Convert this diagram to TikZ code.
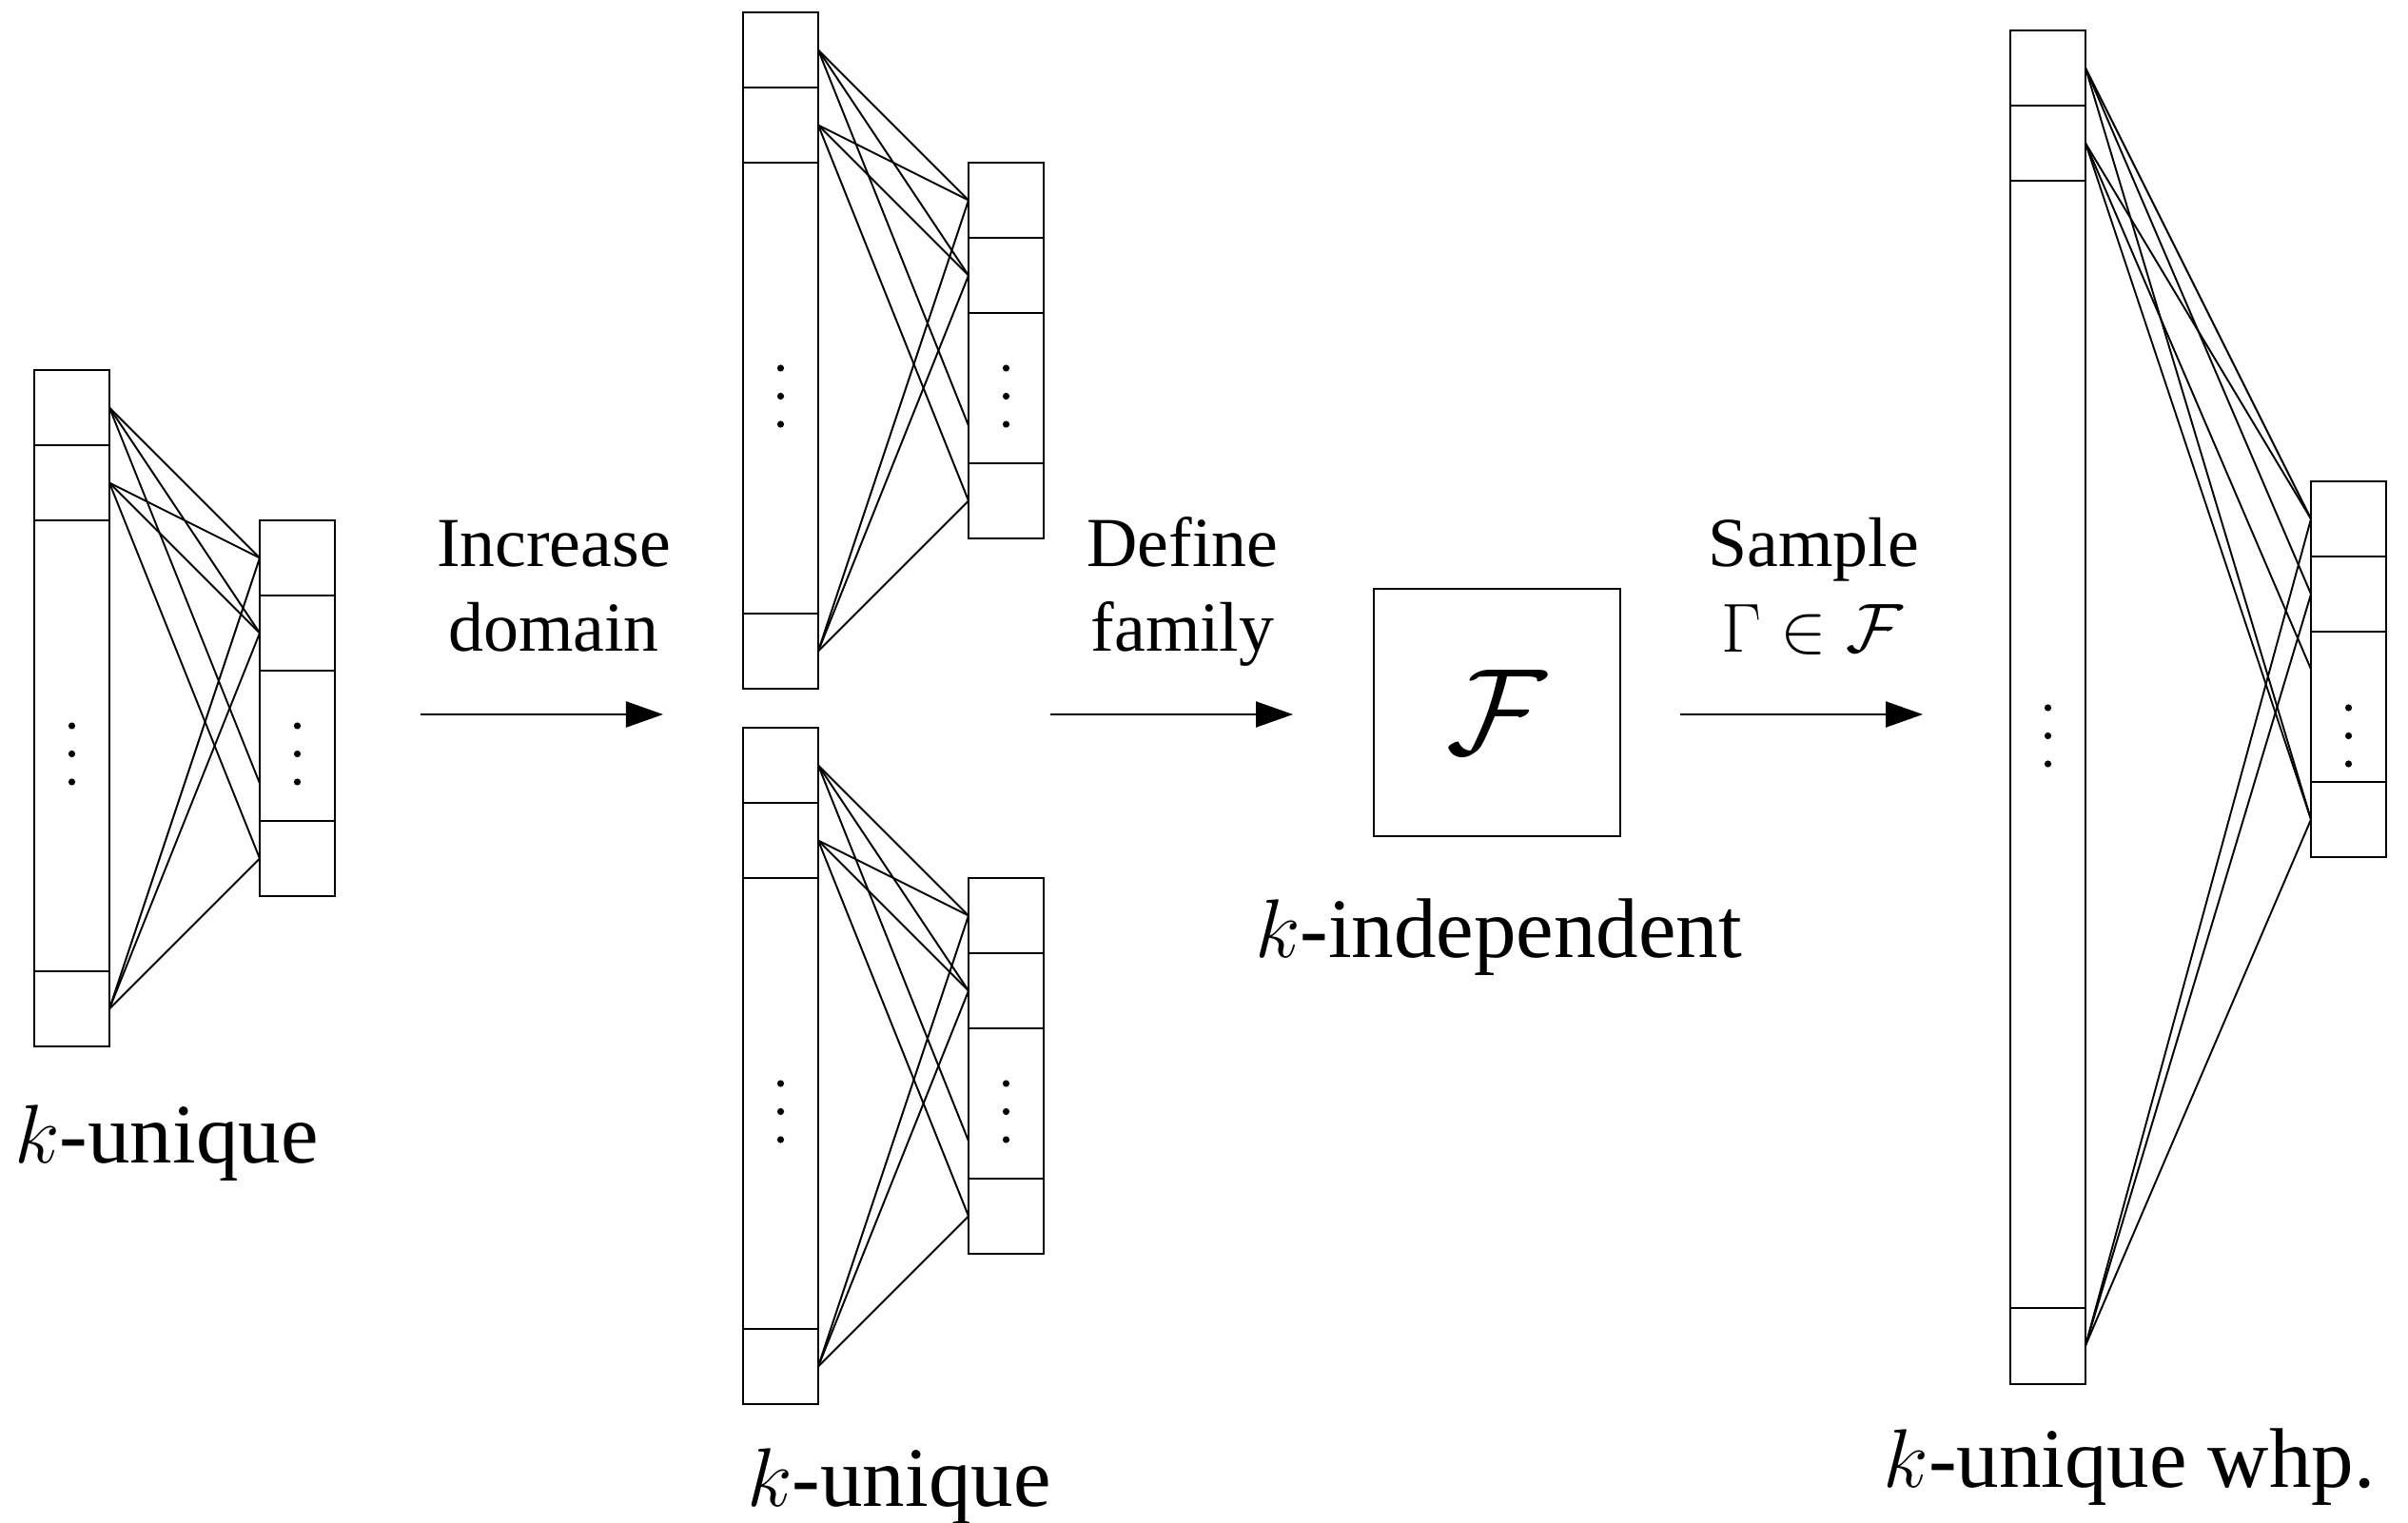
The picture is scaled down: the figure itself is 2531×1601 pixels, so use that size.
\documentclass[tikz,border=0pt]{standalone}
\usepackage{fontspec}
\usepackage{graphicx}
\setmainfont{Liberation Serif}
\usetikzlibrary{arrows.meta}
\tikzset{
  col/.style={draw, line width=0.6pt, minimum width=0.79cm, inner sep=0pt, outer sep=0pt, anchor=north west},
  divider/.style={line width=0.6pt},
  edge/.style={line width=0.55pt},
  flow/.style={line width=0.6pt, -{Triangle[length=0.39cm,width=0.27cm]}},
  lab/.style={font=\fontsize{21}{25}\selectfont, anchor=base, inner sep=0pt},
  biglab/.style={font=\fontsize{25.3}{30}\selectfont, anchor=base, inner sep=0pt},
  famfont/.style={font=\fontsize{24.88}{30}\selectfont},
}
% #1 name, #2 X (left of big column), #3 Y (top), #4 y of middle dot
\newcommand\smallgraph[4]{%
  \node[col, minimum height=7.11cm] (#1big) at (#2,#3) {};
  \node[col, minimum height=3.95cm] (#1sml) at (#2+237,#3+158) {};
  \foreach \kk in {1,2,8} \draw[divider] (#2,#3+79*\kk) -- (#2+79,#3+79*\kk);
  \foreach \kk in {3,4,6} \draw[divider] (#2+237,#3+79*\kk) -- (#2+316,#3+79*\kk);
  \coordinate (#1a1) at (#2+79,#3+39.5);
  \coordinate (#1a2) at (#2+79,#3+118.5);
  \coordinate (#1a3) at (#2+79,#3+671.5);
  \coordinate (#1b1) at (#2+237,#3+197.5);
  \coordinate (#1b2) at (#2+237,#3+276.5);
  \coordinate (#1b3) at (#2+237,#3+434.5);
  \coordinate (#1b4) at (#2+237,#3+513.5);
  \foreach \ea/\eb in {a1/b1,a1/b2,a1/b3,a2/b1,a2/b2,a2/b4,a3/b1,a3/b2,a3/b4}
    \draw[edge] (#1\ea) -- (#1\eb);
  \foreach \dd in {-29.5,0,29.5} {
    \fill (#2+39.5,#4+\dd) circle (3.6);
    \fill (#2+276.5,#4+\dd) circle (3.6);
  }
}
\begin{document}
\begin{tikzpicture}[x=0.01cm, y=-0.01cm]
\useasboundingbox (0,0) rectangle (2531,1601);

% left graph
\smallgraph{L}{36}{389}{792.5}
% middle graphs
\smallgraph{MT}{781}{13}{416.5}
\smallgraph{MB}{781}{765}{1168.5}

% right graph
\node[col, minimum height=14.22cm] (Rbig) at (2113,32) {};
\node[col, minimum height=3.95cm] (Rsml) at (2429,506) {};
\foreach \kk in {1,2,17} \draw[divider] (2113,32+79*\kk) -- (2192,32+79*\kk);
\foreach \kk in {7,8,10} \draw[divider] (2429,32+79*\kk) -- (2508,32+79*\kk);
\coordinate (Ra1) at (2192,71.5);
\coordinate (Ra2) at (2192,150.5);
\coordinate (Ra3) at (2192,1414.5);
\coordinate (Rb1) at (2429,545.5);
\coordinate (Rb2) at (2429,624.5);
\coordinate (Rb3) at (2429,703.5);
\coordinate (Rb4) at (2429,861.5);
\foreach \ea/\eb in {a1/b1,a1/b2,a1/b4,a2/b1,a2/b3,a2/b4,a3/b1,a3/b2,a3/b4}
  \draw[edge] (R\ea) -- (R\eb);
\foreach \dd in {-29.5,0,29.5} {
  \fill (2152.5,773.5+\dd) circle (3.6);
  \fill (2468.5,773.5+\dd) circle (3.6);
}

% family box
\node[draw, line width=0.6pt, minimum width=2.59cm, minimum height=2.6cm, inner sep=0pt, famfont] (fam) at (1573.5,749) {\scalebox{1.47}{$\mathcal{F}$}};

% arrows
\coordinate (s1) at (442,751);
\coordinate (t1) at (697,751);
\coordinate (s2) at (1104,751);
\coordinate (t2) at (1359,751);
\coordinate (s3) at (1766,751);
\coordinate (t3) at (2021,751);
\draw[flow] (s1) -- (t1);
\draw[flow] (s2) -- (t2);
\draw[flow] (s3) -- (t3);

% arrow labels
\node[lab] (inc1) at (582,596) {Increase};
\node[lab] (inc2) at (582,685) {domain};
\node[lab] (def1) at (1243,596) {Define};
\node[lab] (def2) at (1243,685) {family};
\node[lab] (sam1) at (1906,596) {Sample};
\node[lab] (sam2) at (1905,686) {$\Gamma\in\mathcal{F}$};

% bottom labels
\node[biglab] (kuL) at (175,1222) {$k$-unique};
\node[biglab] (kuM) at (945,1583) {$k$-unique};
\node[biglab] (kind) at (1575,1006) {$k$-independent};
\node[biglab] (kuR) at (2238,1563) {$k$-unique whp.};
\end{tikzpicture}
\end{document}
